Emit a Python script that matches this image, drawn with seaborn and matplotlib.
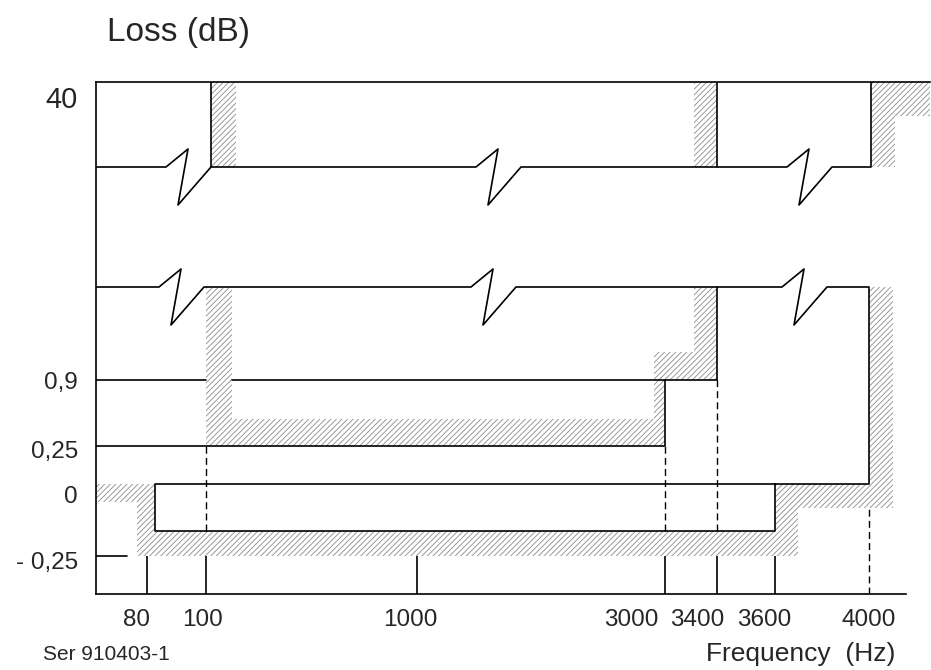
import matplotlib
matplotlib.use("Agg")
import matplotlib.pyplot as plt
import pandas as pd
import seaborn as sns


# === Data (schematic units, the drawing is not to scale) ===
FREQ_LABELS = ["80", "100", "1000", "3000", "3400", "3600", "4000"]
FREQ_X = [51, 110, 321, 569, 621, 679, 773]
FREQ_LABEL_X = [41, 107, 314, 535, 601, 668, 773]

LEVEL_LABELS = ["40", "0,9", "0,25", "0", "- 0,25"]
LEVEL_Y = [494, 214, 148, 110, 38]
LEVEL_LABEL_Y = [494, 211, 142, 97, 31]

# mask levels (schematic)
Y_TOP = 512
Y_BRK_HI = 427      # upper broken line (40 dB region)
Y_BRK_LO = 307      # lower broken line
Y_LOW = 63          # lower limit line
X_END = 834
X_LOW = 59          # lower limit edge near 80 Hz

# break symbol on the broken lines
BREAK_DX = [0, 22, 12, 45]
BREAK_DY = [0, 18, -38, 0]

# hatched (forbidden) zones
HATCH_ZONES = [
    ([115, 140, 140, 115], [427, 427, 512, 512]),
    ([598, 621, 621, 598], [427, 427, 512, 512]),
    ([775, 834, 834, 799, 799, 775], [512, 512, 478, 478, 427, 427]),
    ([110, 136, 136, 558, 558, 598, 598, 621, 621, 569, 569, 110],
     [307, 307, 175, 175, 242, 242, 307, 307, 214, 214, 148, 148]),
    ([0, 59, 59, 679, 679, 773, 773, 797, 797, 702, 702, 41, 41, 0],
     [110, 110, 63, 63, 110, 110, 307, 307, 86, 86, 38, 38, 92, 92]),
]


# === Helpers ===
def broken_line(x0, x1, y, breaks):
    xs, ys = [x0], [y]
    for b in breaks:
        xs += [b + d for d in BREAK_DX]
        ys += [y + d for d in BREAK_DY]
    xs.append(x1)
    ys.append(y)
    return xs, ys


def build_lines():
    parts = []
    x, y = broken_line(0, 115, Y_BRK_HI, [70])
    parts.append((x + [115], y + [Y_TOP]))
    x, y = broken_line(115, 621, Y_BRK_HI, [380])
    parts.append((x + [621], y + [Y_TOP]))
    x, y = broken_line(621, 775, Y_BRK_HI, [691])
    parts.append((x + [775], y + [Y_TOP]))
    x, y = broken_line(0, 621, Y_BRK_LO, [63, 375])
    parts.append((x + [621], y + [LEVEL_Y[1]]))
    x, y = broken_line(621, FREQ_X[6], Y_BRK_LO, [686])
    parts.append((x + [FREQ_X[6], X_LOW, X_LOW, FREQ_X[5], FREQ_X[5]],
                  y + [LEVEL_Y[3], LEVEL_Y[3], Y_LOW, Y_LOW, LEVEL_Y[3]]))
    parts.append(([0, FREQ_X[1]], [LEVEL_Y[1]] * 2))
    parts.append(([136, 621], [LEVEL_Y[1]] * 2))
    parts.append(([0, FREQ_X[3], FREQ_X[3]], [LEVEL_Y[2], LEVEL_Y[2], LEVEL_Y[1]]))
    parts.append(([0, 31], [LEVEL_Y[4]] * 2))
    rows = []
    for i, (xs, ys) in enumerate(parts):
        for j, (a, b) in enumerate(zip(xs, ys)):
            rows.append({"part": i, "order": j, "x": a, "y": b})
    return pd.DataFrame(rows)


# === Plot ===
sns.set_style("white")
plt.rcParams["font.family"] = ["Liberation Sans", "DejaVu Sans"]
plt.rcParams["hatch.linewidth"] = 0.6

fig = plt.figure(figsize=(9.31, 6.70), dpi=100)
ax = fig.add_axes([96 / 931, 76 / 670, 834 / 931, 512 / 670])
ax.set_xlim(0, X_END)
ax.set_ylim(0, Y_TOP)

for xs, ys in HATCH_ZONES:
    ax.fill(xs, ys, facecolor="none", edgecolor="#8a8a8a", hatch="//////",
            linewidth=0, clip_on=False, zorder=1)

df = build_lines()
sns.lineplot(data=df, x="x", y="y", units="part", estimator=None, sort=False,
             color="black", lw=1.2, ax=ax, legend=False, zorder=3)

# frequency ticks (solid) and dashed guides
ax.vlines(FREQ_X[:6], 0, LEVEL_Y[4], color="black", lw=1.2, zorder=3)
ax.vlines([FREQ_X[1], FREQ_X[3]], Y_LOW, LEVEL_Y[2], color="black", lw=1.0,
          linestyles=(0, (5, 3)), zorder=3)
ax.vlines(FREQ_X[4], Y_LOW, LEVEL_Y[1], color="black", lw=1.0,
          linestyles=(0, (5, 3)), zorder=3)
ax.vlines(FREQ_X[6], 0, 86, color="black", lw=1.0,
          linestyles=(0, (5, 3)), zorder=3)

ax.set_xticks([])
ax.set_yticks([])
ax.set_xlabel("")
ax.set_ylabel("")
ax.spines["right"].set_visible(False)
for s in ["left", "top", "bottom"]:
    ax.spines[s].set_color("black")
    ax.spines[s].set_linewidth(1.2)
ax.spines["bottom"].set_bounds(0, 810)

for lab, y in zip(LEVEL_LABELS, LEVEL_LABEL_Y):
    size = 21 if lab == "40" else 17.5
    ax.text(-18, y, lab, ha="right", va="center", fontsize=size, clip_on=False)
for lab, x in zip(FREQ_LABELS, FREQ_LABEL_X):
    ax.text(x, -26, lab, ha="center", va="center", fontsize=17.5, clip_on=False)

ax.text(11, 562, "Loss (dB)", ha="left", va="center", fontsize=24, clip_on=False)
ax.text(-53, -61, "Ser 910403-1", ha="left", va="center", fontsize=15,
        clip_on=False)
ax.text(799, -60, "Frequency  (Hz)", ha="right", va="center", fontsize=19,
        clip_on=False)

plt.savefig("out.png", dpi=100)
plt.close()
